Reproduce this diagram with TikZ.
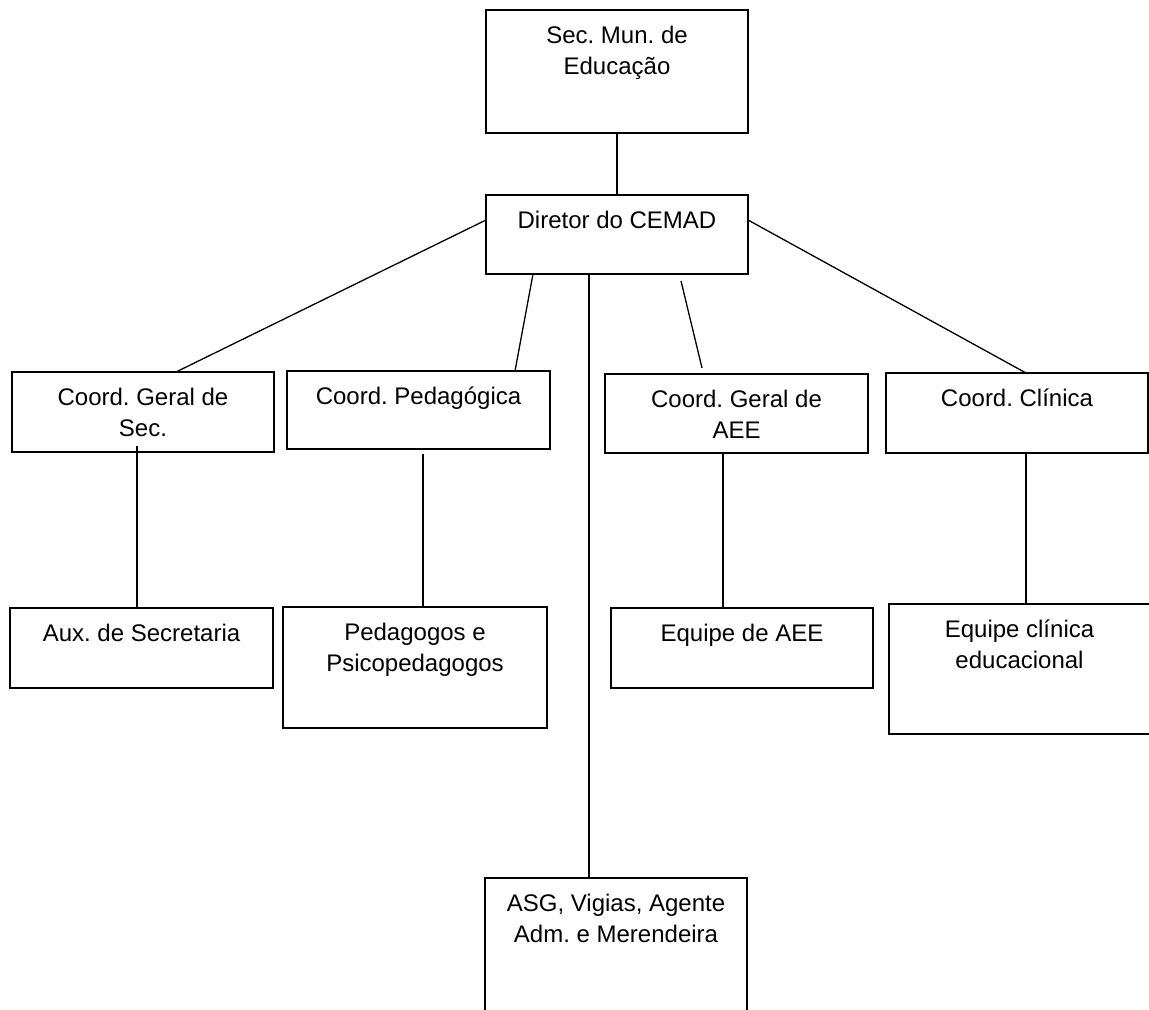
\documentclass[tikz,border=0pt]{standalone}
\usepackage{fontspec}
\setmainfont{Liberation Sans}
\frenchspacing

\newcommand{\topo}[3]{\parbox[t][#2][t]{#1}{\centering\strut #3}}

\begin{document}
\begin{tikzpicture}[x=0.5pt,y=-0.5pt,
  caixa/.style={draw,line width=0.7pt,anchor=north west,inner xsep=0pt,inner ysep=6pt,outer sep=0pt,font=\fontsize{12}{15.5}\selectfont},
  linha/.style={line width=0.65pt}]
  \clip (0,0) rectangle (1149,1010);
  \fill [white] (0,0) rectangle (1149,1010);

  \node [caixa] (sec)  at (486,10)  {\topo{131pt}{49.5pt}{Sec. Mun. de\\Educação}};
  \node [caixa] (dir)  at (486,195) {\topo{131pt}{27.5pt}{Diretor do CEMAD}};

  \node [caixa] (csec) at (12,372)  {\topo{131pt}{28pt}{Coord. Geral de\\Sec.}};
  \node [caixa] (cped) at (287,371) {\topo{131.5pt}{27pt}{Coord. Pedagógica}};
  \node [caixa] (caee) at (605,374) {\topo{131.5pt}{27.5pt}{Coord. Geral de\\AEE}};
  \node [caixa] (ccli) at (886,373) {\topo{131pt}{28pt}{Coord. Clínica}};

  \node [caixa] (aux)  at (10,608)  {\topo{131.5pt}{28pt}{Aux. de Secretaria}};
  \node [caixa] (pped) at (283,607) {\topo{132pt}{48.5pt}{Pedagogos e\\Psicopedagogos}};
  \node [caixa] (eaee) at (611,608) {\topo{131pt}{28pt}{Equipe de AEE}};
  \node [caixa] (ecli) at (889,604) {\topo{130.5pt}{53pt}{Equipe clínica\\educacional}};

  \node [caixa] (asg)  at (485,878) {\topo{131pt}{63pt}{ASG, Vigias, Agente\\Adm. e Merendeira}};

  \draw [linha] (sec) -- (dir);
  \draw [linha] ([yshift=7.25pt]dir.west) -- ([xshift=16.5pt]csec.north);
  \draw [linha] ([xshift=-42pt]dir.south) -- ([xshift=48.25pt]cped.north);
  \draw [linha] ([xshift=-14pt]dir.south) -- ([xshift=-14pt]dir.south |- asg.north);
  \draw [linha] ([xshift=32pt,yshift=-3.5pt]dir.south) -- ([xshift=-17.25pt,yshift=3pt]caee.north);
  \draw [linha] ([yshift=7.25pt]dir.east) -- ([xshift=4.5pt]ccli.north);

  \draw [linha] ([xshift=-3pt,yshift=3pt]csec.south) -- ([xshift=-3pt]csec.south |- aux.north);
  \draw [linha] ([xshift=2.25pt,yshift=-2.5pt]cped.south) -- ([xshift=2.25pt]cped.south |- pped.north);
  \draw [linha] ([xshift=-6.75pt]caee.south) -- ([xshift=-6.75pt]caee.south |- eaee.north);
  \draw [linha] ([xshift=4.5pt]ccli.south) -- ([xshift=4.5pt]ccli.south |- ecli.north);
\end{tikzpicture}
\end{document}
